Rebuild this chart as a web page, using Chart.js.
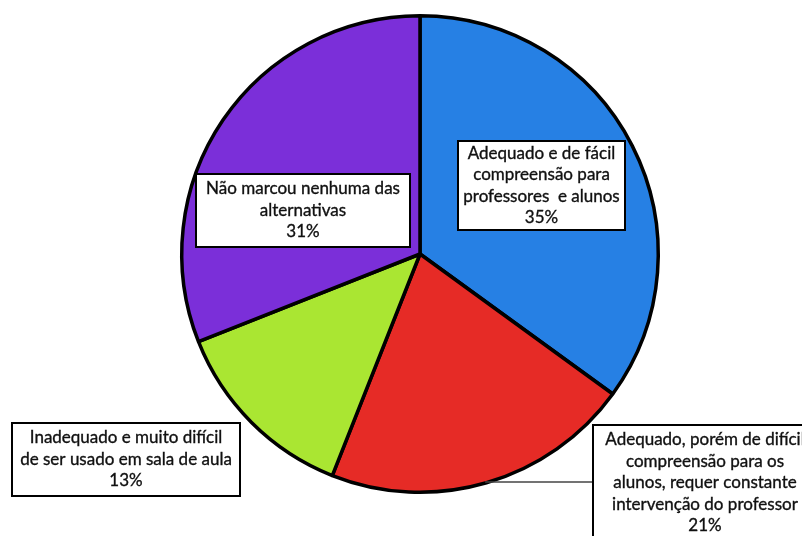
<!DOCTYPE html>
<html>
<head>
<meta charset="utf-8">
<script src="https://cdn.jsdelivr.net/npm/chart.js@4.4.1/dist/chart.umd.min.js"></script>
<style>
  html, body { margin: 0; padding: 0; background: #fff; }
  #wrap { width: 802px; height: 536px; }
</style>
</head>
<body>
<div id="wrap"><canvas id="c" width="802" height="536"></canvas></div>
<script>
// categories (label text, split in lines as in the picture)
const categories = [
  ["Adequado e de fácil", "compreensão para", "professores  e alunos"],
  ["Adequado, porém de difícil", "compreensão para os", "alunos, requer constante", "intervenção do professor"],
  ["Inadequado e muito difícil", "de ser usado em sala de aula"],
  ["Não marcou nenhuma das", "alternativas"]
];
const values = [35, 21, 13, 31];
const colors = ["#2680e4", "#e62b26", "#aae632", "#7b2fd9"];

// annotation boxes: left, top, width, height, text centre x, optional leader line y
const boxes = [
  { x: 458, y: 141, w: 167, h: 89 },
  { x: 593, y: 425, w: 230, h: 125, tx: 705, leaderY: 482 },
  { x: 12, y: 423, w: 228, h: 73 },
  { x: 196, y: 174, w: 214, h: 73 }
];
const textStyle = { font: '17px Lato', color: '#111', lineH: 21.5 };

const labelPlugin = {
  id: 'boxLabels',
  afterDatasetsDraw(chart) {
    const ctx = chart.ctx;
    const meta = chart.getDatasetMeta(0);
    ctx.save();
    meta.data.forEach((arc, i) => {
      const b = boxes[i];
      const lines = categories[i].concat([values[i] + '%']);
      if (b.leaderY !== undefined) {
        const dy = b.leaderY - arc.y;
        const r = arc.outerRadius;
        const ex = arc.x + Math.sqrt(Math.max(0, r * r - dy * dy)) - 4;
        ctx.strokeStyle = '#444';
        ctx.lineWidth = 1.3;
        ctx.beginPath();
        ctx.moveTo(ex, b.leaderY);
        ctx.lineTo(b.x, b.leaderY);
        ctx.stroke();
      }
      ctx.fillStyle = '#fff';
      ctx.fillRect(b.x, b.y, b.w, b.h);
      ctx.strokeStyle = '#000';
      ctx.lineWidth = 2;
      ctx.strokeRect(b.x, b.y, b.w, b.h);
      ctx.fillStyle = textStyle.color;
      ctx.strokeStyle = textStyle.color;
      ctx.lineWidth = 0.35;
      ctx.font = textStyle.font;
      ctx.textAlign = 'center';
      ctx.textBaseline = 'middle';
      const tx = b.tx !== undefined ? b.tx : b.x + b.w / 2;
      const startY = b.y + (b.leaderY !== undefined ? 15 : (b.h - (lines.length - 1) * textStyle.lineH) / 2);
      lines.forEach((ln, k) => {
        ctx.fillText(ln, tx, startY + k * textStyle.lineH);
        ctx.strokeText(ln, tx, startY + k * textStyle.lineH);
      });
    });
    ctx.restore();
  }
};

new Chart(document.getElementById('c'), {
  type: 'pie',
  data: {
    labels: categories.map(l => l.join(' ')),
    datasets: [{
      data: values,
      backgroundColor: colors,
      borderColor: '#000',
      borderWidth: 3.5
    }]
  },
  options: {
    responsive: false,
    devicePixelRatio: 1,
    animation: false,
    layout: { padding: { left: 180, right: 142, top: 14, bottom: 42 } },
    plugins: { legend: { display: false }, tooltip: { enabled: false } }
  },
  plugins: [labelPlugin]
});
</script>
</body>
</html>
